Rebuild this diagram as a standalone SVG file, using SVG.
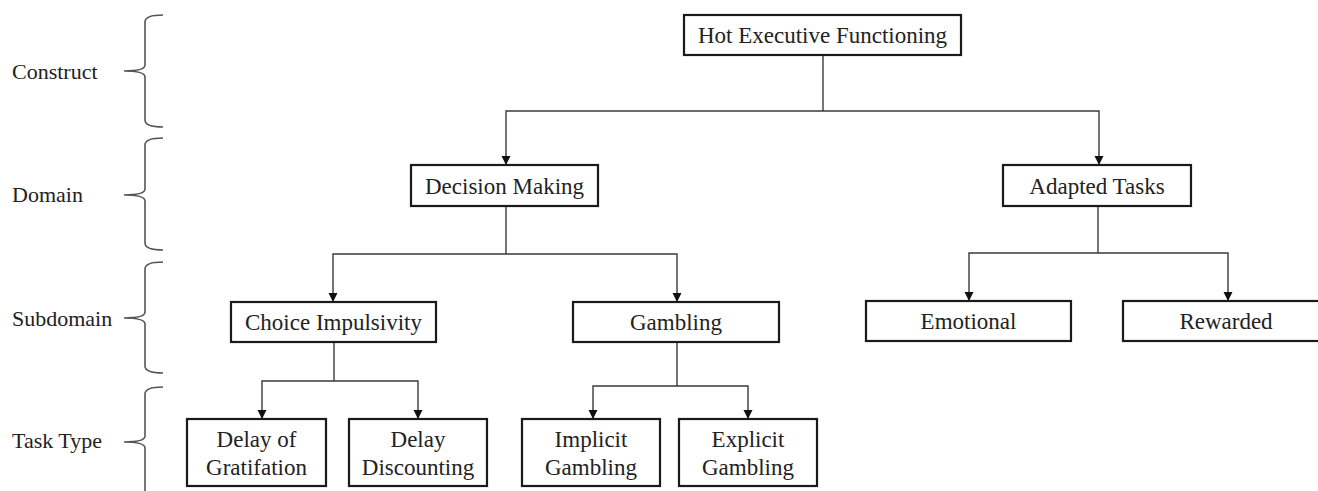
<svg xmlns="http://www.w3.org/2000/svg" width="1318" height="491" viewBox="0 0 1318 491">
<defs>
<marker id="ah" markerWidth="10" markerHeight="10" refX="9" refY="5" orient="auto" markerUnits="userSpaceOnUse" viewBox="0 0 10 10">
<path d="M0,0.5 L9,5 L0,9.5 Z" fill="#111"/>
</marker>
<style>
.box{fill:#fff;stroke:#1a1a1a;stroke-width:2.2}
.t{font-family:"Liberation Serif","Times New Roman",serif;font-size:23px;fill:#222;text-anchor:middle}
.lab{font-family:"Liberation Serif","Times New Roman",serif;font-size:22px;fill:#222}
.c{fill:none;stroke:#3a3a3a;stroke-width:1.4}
.a{fill:none;stroke:#3a3a3a;stroke-width:1.4;marker-end:url(#ah)}
.br{fill:none;stroke:#555;stroke-width:1.6}
</style>
</defs>
<rect width="1318" height="491" fill="#fff"/>

<g id="levels">
<text class="lab" x="12" y="79">Construct</text>
<path class="br" d="M163,15 Q145,15 145,22 L145,65 Q145,71 124,71 Q145,71 145,77 L145,120 Q145,127 163,127"/>
<text class="lab" x="12" y="202">Domain</text>
<path class="br" d="M163,138 Q145,138 145,145 L145,189 Q145,195 124,195 Q145,195 145,201 L145,243 Q145,250 163,250"/>
<text class="lab" x="12" y="326">Subdomain</text>
<path class="br" d="M163,262 Q145,262 145,269 L145,312 Q145,318 124,318 Q145,318 145,324 L145,366 Q145,373 163,373"/>
<text class="lab" x="12" y="448">Task Type</text>
<path class="br" d="M163,387 Q145,387 145,394 L145,436 Q145,442 124,442 Q145,442 145,448 L145,495"/>
</g>

<g id="connectors">
<path class="c" d="M823,55 L823,111"/>
<path class="a" d="M823,111 L506,111 L506,165"/>
<path class="a" d="M823,111 L1099,111 L1099,165"/>
<path class="c" d="M506,206 L506,254"/>
<path class="a" d="M506,254 L333,254 L333,302"/>
<path class="a" d="M506,254 L677,254 L677,302"/>
<path class="c" d="M1098,206 L1098,253"/>
<path class="a" d="M1098,253 L969,253 L969,301"/>
<path class="a" d="M1098,253 L1228,253 L1228,301"/>
<path class="c" d="M334,342 L334,381"/>
<path class="a" d="M334,381 L262,381 L262,419"/>
<path class="a" d="M334,381 L418,381 L418,419"/>
<path class="c" d="M677,342 L677,386"/>
<path class="a" d="M677,386 L593,386 L593,419"/>
<path class="a" d="M677,386 L748,386 L748,419"/>
</g>

<g id="hot">
<rect class="box" x="684" y="15" width="277" height="40"/>
<text class="t" x="822.5" y="43">Hot Executive Functioning</text>
</g>
<g id="decision">
<rect class="box" x="411" y="165" width="187" height="41"/>
<text class="t" x="504.5" y="193.5">Decision Making</text>
</g>
<g id="adapted">
<rect class="box" x="1003" y="165" width="188" height="41"/>
<text class="t" x="1097" y="193.5">Adapted Tasks</text>
</g>
<g id="choice">
<rect class="box" x="231" y="302" width="205" height="40"/>
<text class="t" x="333.5" y="330">Choice Impulsivity</text>
</g>
<g id="gambling">
<rect class="box" x="573" y="302" width="206" height="40"/>
<text class="t" x="676" y="330">Gambling</text>
</g>
<g id="emotional">
<rect class="box" x="866" y="301" width="205" height="40"/>
<text class="t" x="968.5" y="329">Emotional</text>
</g>
<g id="rewarded">
<rect class="box" x="1123" y="301" width="210" height="40"/>
<text class="t" x="1226" y="329">Rewarded</text>
</g>
<g id="delay-grat">
<rect class="box" x="187" y="419" width="139" height="67"/>
<text class="t" x="256.5" y="447">Delay of</text>
<text class="t" x="256.5" y="475">Gratifation</text>
</g>
<g id="delay-disc">
<rect class="box" x="349" y="419" width="138" height="67"/>
<text class="t" x="418" y="447">Delay</text>
<text class="t" x="418" y="475">Discounting</text>
</g>
<g id="implicit">
<rect class="box" x="522" y="419" width="138" height="67"/>
<text class="t" x="591" y="447">Implicit</text>
<text class="t" x="591" y="475">Gambling</text>
</g>
<g id="explicit">
<rect class="box" x="679" y="419" width="138" height="67"/>
<text class="t" x="748" y="447">Explicit</text>
<text class="t" x="748" y="475">Gambling</text>
</g>
</svg>
